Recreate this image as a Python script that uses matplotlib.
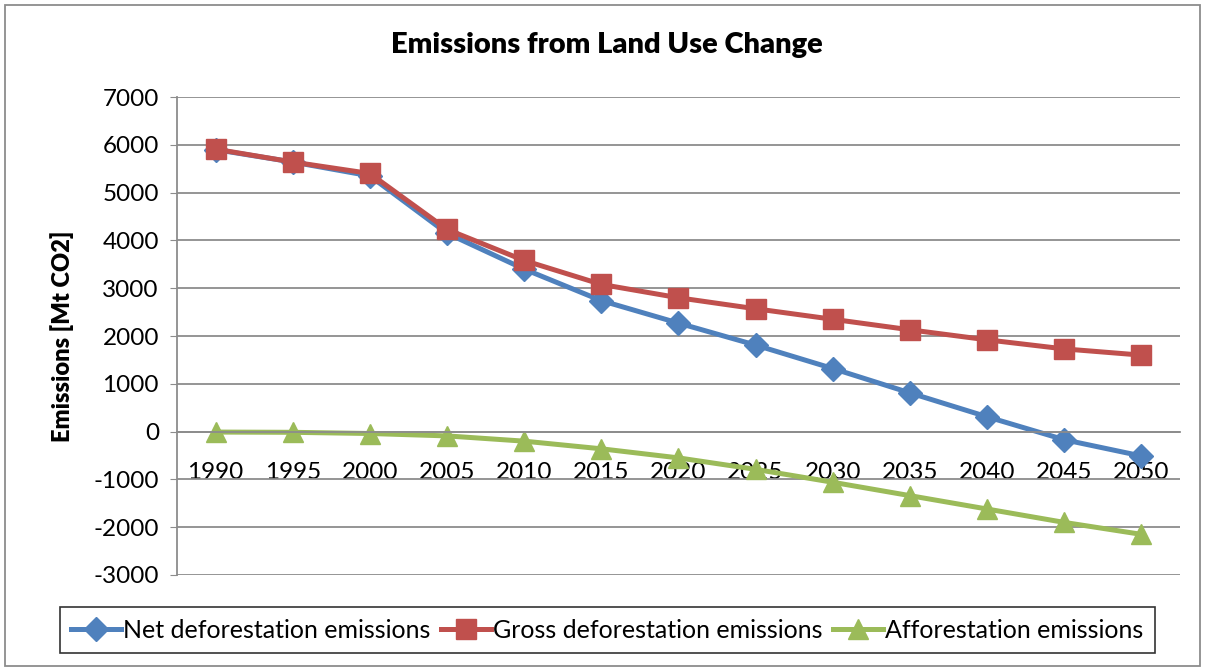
import matplotlib
matplotlib.use("Agg")
import matplotlib.pyplot as plt
from matplotlib.patches import Rectangle

plt.rcParams['font.family'] = ['Lato', 'DejaVu Sans']
plt.rcParams['axes.unicode_minus'] = False

years = ['1990', '1995', '2000', '2005', '2010', '2015', '2020',
         '2025', '2030', '2035', '2040', '2045', '2050']
net_defor = [5900, 5640, 5350, 4150, 3400, 2740, 2270, 1810, 1320, 810, 310, -170, -510]
gross_defor = [5910, 5640, 5400, 4230, 3580, 3080, 2800, 2570, 2350, 2130, 1920, 1730, 1600]
afforest = [-10, -15, -40, -90, -200, -360, -550, -790, -1060, -1340, -1620, -1900, -2150]
yticks = list(range(-3000, 7001, 1000))

fig = plt.figure(figsize=(12.07, 6.71), dpi=100)
ax = fig.add_axes([0.1466, 0.1431, 0.8310, 0.7123])

x = list(range(len(years)))
ax.plot(x, net_defor, c='#4F81BD', lw=3.6, marker='D', ms=12, label='Net deforestation emissions')
ax.plot(x, gross_defor, c='#C0504D', lw=3.6, marker='s', ms=14, label='Gross deforestation emissions')
ax.plot(x, afforest, c='#9BBB59', lw=3.6, marker='^', ms=14, label='Afforestation emissions')

ax.set_xlim(-0.5, len(years) - 0.5)
ax.set_ylim(-3000, 7000)
ax.set_yticks(yticks)
ax.set_xticks(x)
ax.set_xticklabels(years)
ax.grid(axis='y', color='#8c8c8c', lw=1.3)
ax.set_axisbelow(True)

for s in ['top', 'right']:
    ax.spines[s].set_visible(False)
ax.spines['left'].set_color('#8c8c8c')
ax.spines['left'].set_linewidth(1.3)
ax.spines['bottom'].set_position(('data', 0))
ax.spines['bottom'].set_color('#8c8c8c')
ax.spines['bottom'].set_linewidth(1.3)
ax.tick_params(axis='x', length=0, pad=22, labelsize=17.5)
ax.tick_params(axis='y', length=5, color='#8c8c8c', labelsize=17.5, pad=8)

ax.set_ylabel('Emissions [Mt CO2]', fontsize=17, fontweight='heavy', labelpad=14)
fig.text(0.503, 0.933, 'Emissions from Land Use Change', ha='center', va='center',
         fontsize=21, fontweight='heavy')

leg = fig.legend(loc='center', bbox_to_anchor=(0.503, 0.061), ncol=3,
                 prop={'family': ['Liberation Sans Narrow', 'Lato'], 'size': 18},
                 frameon=True, fancybox=False, edgecolor='black', handlelength=2.0,
                 columnspacing=0.4, handletextpad=0.1, borderpad=0.45)
leg.get_frame().set_linewidth(1.2)

fig.patches.append(Rectangle((0.004, 0.008), 0.99, 0.985, transform=fig.transFigure,
                             fill=False, edgecolor='#8c8c8c', lw=1.3))

fig.savefig('out.png', dpi=100)
